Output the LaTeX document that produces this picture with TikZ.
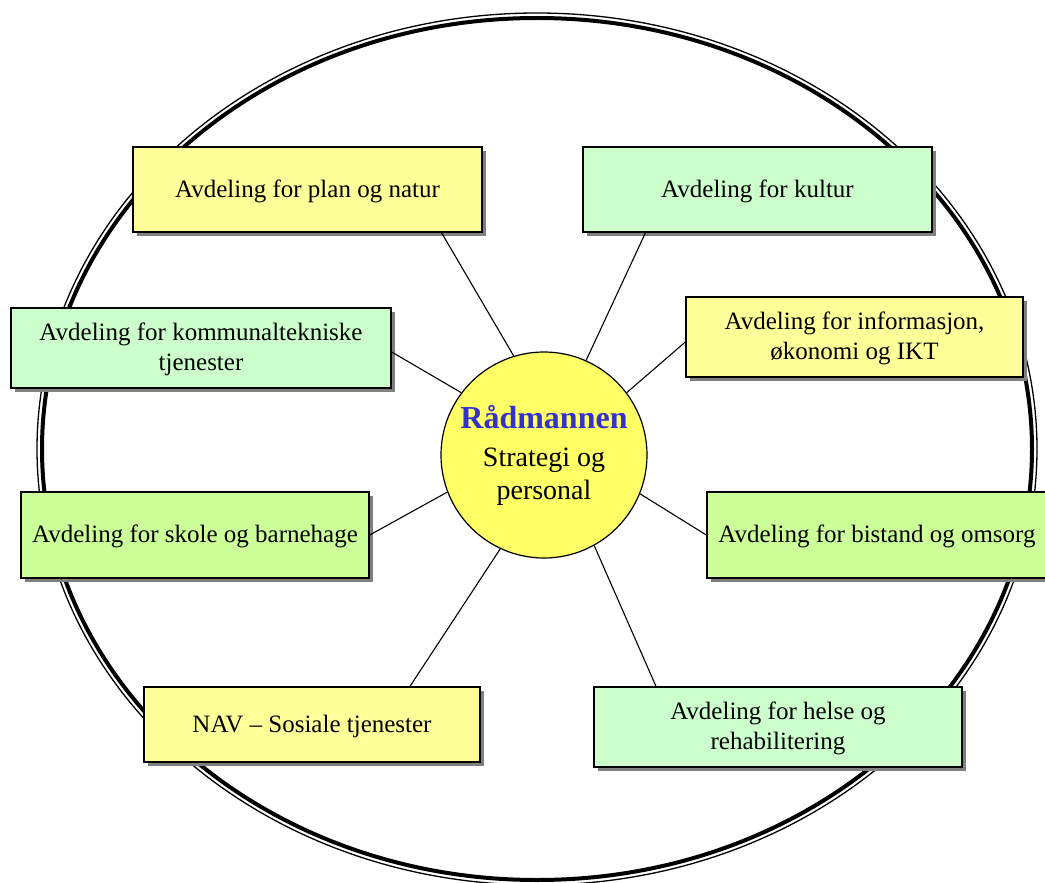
\documentclass[tikz,border=0pt]{standalone}
\usepackage{fontspec}
\setmainfont{Liberation Serif}
\usetikzlibrary{shadows}
\definecolor{boxyellow}{HTML}{FFFF99}
\definecolor{boxmint}{HTML}{CCFFCC}
\definecolor{boxlime}{HTML}{CCFF99}
\definecolor{circyellow}{HTML}{FFFF66}
\definecolor{radblue}{HTML}{3333CC}
\definecolor{shadowgray}{HTML}{808080}
\newcommand{\bstrut}{\rule[-3.6pt]{0pt}{24.3pt}}
\begin{document}
\begin{tikzpicture}[x=1pt,y=-1pt,
  dept/.style={draw=black, line width=1.4pt, inner sep=0pt, align=center,
    font=\fontsize{25}{30}\selectfont,
    drop shadow={shadow xshift=4pt, shadow yshift=-4pt, fill=shadowgray, opacity=1}},
  link/.style={line width=1.1pt}]
\clip (0,0) rectangle (1045,883);
\fill[white] (0,0) rectangle (1045,883);
% outer double ellipse
\draw[line width=1.3pt] (537,449) ellipse [x radius=500pt, y radius=436pt];
\draw[line width=4pt] (537,449) ellipse [x radius=495pt, y radius=431pt];
% departments
\node[dept, fill=boxyellow, minimum width=349pt, minimum height=85pt] (plan) at (307.5,189.5) {\bstrut Avdeling for plan og natur};
\node[dept, fill=boxmint, minimum width=349pt, minimum height=85pt] (kultur) at (757.5,189.5) {\bstrut Avdeling for kultur};
\node[dept, fill=boxmint, minimum width=380pt, minimum height=80pt] (komm) at (201,348) {\bstrut Avdeling for kommunaltekniske\\\bstrut tjenester};
\node[dept, fill=boxyellow, minimum width=337pt, minimum height=80pt] (info) at (854.5,337) {\bstrut Avdeling for informasjon,\\\bstrut økonomi og IKT};
\node[dept, fill=boxlime, minimum width=348pt, minimum height=86pt] (skole) at (195,535) {\bstrut Avdeling for skole og barnehage};
\node[dept, fill=boxlime, minimum width=340pt, minimum height=86pt] (bistand) at (877,535) {\bstrut Avdeling for bistand og omsorg};
\node[dept, fill=boxyellow, minimum width=336pt, minimum height=75pt] (nav) at (312,724.5) {\bstrut NAV – Sosiale tjenester};
\node[dept, fill=boxmint, minimum width=368pt, minimum height=80pt] (helse) at (778,727) {\bstrut Avdeling for helse og\\\bstrut rehabilitering};
% centre
\node[circle, draw=black, line width=1.2pt, fill=circyellow, minimum size=206pt, inner sep=0pt, align=center,
  font=\fontsize{28}{33}\selectfont] (c) at (544,455)
  {{\fontsize{32}{38}\selectfont\bfseries\color{radblue}Rådmannen}\\[5pt]Strategi og\\personal};
% connectors
\draw[link] (c.107) -- ([xshift=134pt]plan.south);
\draw[link] (c.66.5) -- ([xshift=-112pt]kultur.south);
\draw[link] (c.143.7) -- ([yshift=-4pt]komm.east);
\draw[link] (c.37) -- ([yshift=-5pt]info.west);
\draw[link] (c.201.5) -- (skole.east);
\draw[link] (c.338) -- (bistand.west);
\draw[link] (c.245.5) -- ([xshift=98pt]nav.north);
\draw[link] (c.299) -- ([xshift=-122pt]helse.north);
\end{tikzpicture}
\end{document}
